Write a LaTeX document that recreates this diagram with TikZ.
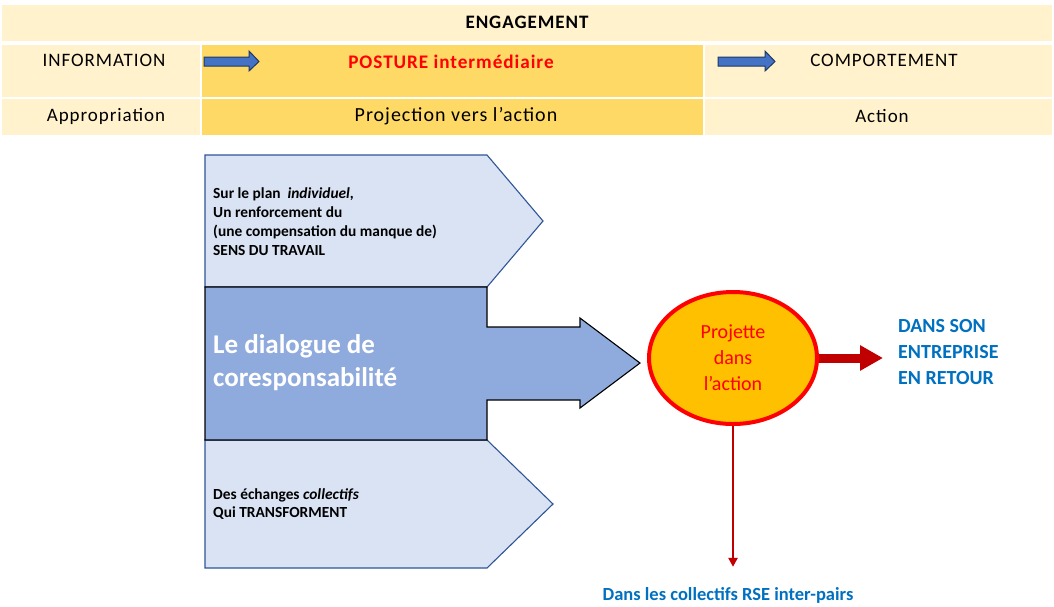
\documentclass[tikz,border=0pt]{standalone}
\usepackage{fontspec}
\setmainfont{Carlito}
\newfontfamily\espace[LetterSpace=5]{Carlito}
\usepackage{tikz}
\usetikzlibrary{arrows.meta, shapes.geometric, positioning}
\definecolor{creme}{RGB}{255,242,204}
\definecolor{ocre}{RGB}{255,217,102}
\definecolor{bleuclair}{RGB}{218,227,243}
\definecolor{bleumoyen}{RGB}{143,170,220}
\definecolor{bleubord}{RGB}{47,85,151}
\definecolor{bleuvif}{RGB}{68,114,196}
\definecolor{marine}{RGB}{31,56,100}
\definecolor{orangeor}{RGB}{255,192,0}
\definecolor{rougefonce}{RGB}{192,0,0}
\definecolor{bleutexte}{RGB}{0,112,192}
\begin{document}
\begin{tikzpicture}[x=1pt, y=-1pt,
    cell/.style={fill=creme, inner sep=0pt, outer sep=0pt},
    cellor/.style={fill=ocre, inner sep=0pt, outer sep=0pt},
    hdr/.style={font=\espace\fontsize{19}{23}\selectfont, inner sep=0pt},
    pent/.style={fill=bleuclair, draw=bleubord, line width=1.1pt, line join=miter},
    bloc/.style={fill=bleumoyen, draw=black, line width=1.1pt, line join=miter},
    petitefleche/.style={fill=bleuvif, draw=marine, line width=1pt},
    txt/.style={font=\fontsize{15.4}{19}\selectfont\bfseries, align=left, anchor=west, inner sep=0pt},
    bleu/.style={font=\fontsize{20}{26}\selectfont\bfseries, text=bleutexte, align=left, inner sep=0pt},
    grosse/.style={-{Triangle[length=23pt, width=24pt]}, rougefonce, line width=9pt},
    fine/.style={-{Triangle[length=9pt, width=9pt]}, rougefonce, line width=2.4pt}
  ]
  \useasboundingbox (0,0) rectangle (1054,606);

  % tableau
  \node[cell, minimum width=1050pt, minimum height=35.5pt, font=\espace\fontsize{19}{23}\selectfont\bfseries]
    (engagement) at (527,22.75) {ENGAGEMENT};
  \node[cell, minimum width=198pt, minimum height=52pt] (c21) at (101,71) {};
  \node[cellor, minimum width=501pt, minimum height=52pt] (c22) at (452.5,71) {};
  \node[cell, minimum width=347pt, minimum height=52pt] (c23) at (878.5,71) {};
  \node[cell, minimum width=198pt, minimum height=35.7pt] (c31) at (101,117.15) {};
  \node[cellor, minimum width=501pt, minimum height=35.7pt] (c32) at (452.5,117.15) {};
  \node[cell, minimum width=347pt, minimum height=35.7pt] (c33) at (878.5,117.15) {};

  \node[hdr] (information) at (104,60) {INFORMATION};
  \node[hdr, font=\espace\fontsize{19.2}{24}\selectfont\bfseries, text=red] (posture) at (451,61.5) {POSTURE intermédiaire};
  \node[hdr] (comportement) at (884,60) {COMPORTEMENT};
  \node[hdr] (appropriation) at (106,116) {Appropriation};
  \node[hdr, font=\espace\fontsize{20}{24}\selectfont] (projection) at (456,116.5) {Projection vers l’action};
  \node[hdr] (actiontxt) at (882,115.5) {Action};

  \draw[petitefleche] (204,57) -- (249,57) -- (249,51) -- (259,61.5) -- (249,71) -- (249,66) -- (204,66) -- cycle;
  \draw[petitefleche] (718,57) -- (765,57) -- (765,51) -- (775,61.5) -- (765,71) -- (765,66) -- (718,66) -- cycle;

  % formes
  \draw[pent] (205,155) -- (487,155) -- (543,221) -- (487,287) -- (205,287) -- cycle;
  \draw[pent] (205,440) -- (487,440) -- (553,504) -- (487,568) -- (205,568) -- cycle;
  \draw[bloc] (205,287) -- (487,287) -- (487,327) -- (580,327) -- (580,318) -- (640,363)
    -- (580,408) -- (580,400) -- (487,400) -- (487,440) -- (205,440) -- cycle;

  \node[txt] (individuel) at (213,221.5) {Sur le plan \ \textit{individuel,}\\Un renforcement du\\(une compensation du manque de)\\SENS DU TRAVAIL};
  \node[txt, font=\fontsize{15.4}{18}\selectfont\bfseries] (collectifs) at (213,504) {Des échanges \textit{collectifs}\\Qui TRANSFORMENT};
  \node[txt, font=\fontsize{27}{33}\selectfont\bfseries, text=white] (dialogue) at (213,363) {Le dialogue de\\coresponsabilité};

  \node[ellipse, fill=orangeor, draw=red, line width=4pt, minimum width=168pt, minimum height=132pt,
    font=\fontsize{20}{26}\selectfont, text=red, align=center, inner sep=0pt] (projette) at (733,358) {Projette\\dans\\l’action};

  \node[bleu, anchor=west] (retour) at (898,352) {DANS SON\\ENTREPRISE\\EN RETOUR};
  \node[bleu, font=\fontsize{18.5}{21}\selectfont\bfseries] (rse) at (728,595) {Dans les collectifs RSE inter-pairs};

  \draw[grosse] (projette.east) -- (projette.east -| retour.west) [shorten >=15pt];
  \draw[fine, shorten >=20pt] (projette.south) -- (projette.south |- rse.north);
\end{tikzpicture}
\end{document}
